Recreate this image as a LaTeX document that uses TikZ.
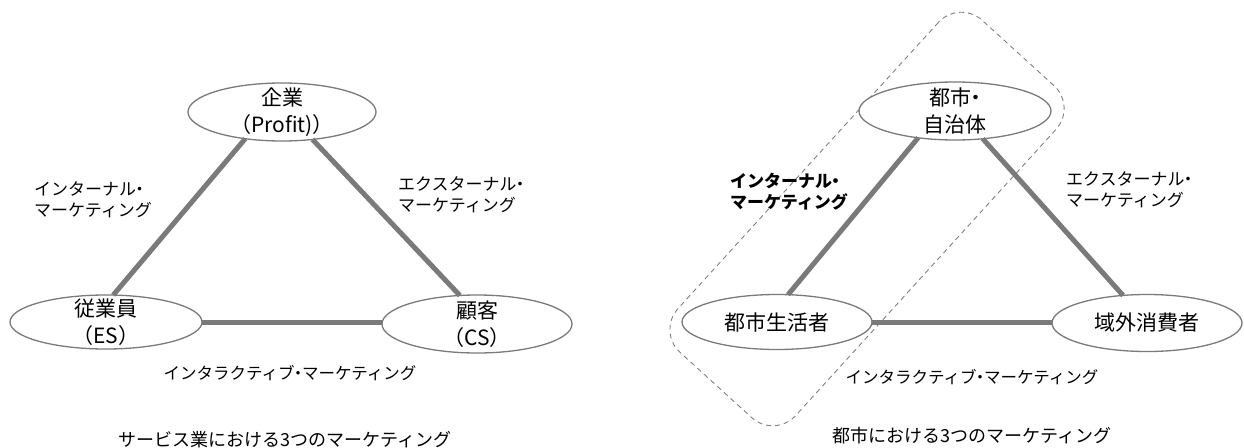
\documentclass[tikz,border=0pt]{standalone}
\usepackage{fontspec}
\setmainfont{Noto Sans CJK JP}
\usetikzlibrary{shapes.geometric}
\definecolor{lg}{HTML}{7A7A7A}
\definecolor{dg}{HTML}{808080}
\newcommand{\mdot}{\kern-0.3em・\kern-0.25em}
\begin{document}
\begin{tikzpicture}[x=1pt,y=-1pt,
  ell/.style={ellipse, draw=lg, line width=1.3pt, fill=white, inner sep=0pt, outer sep=0pt},
  ntext/.style={font=\fontsize{21}{27}\selectfont, align=center, inner sep=0pt},
  conn/.style={draw=lg, line width=5pt},
  lab/.style={font=\fontsize{17}{21}\selectfont, align=left, anchor=west, inner sep=0pt},
  ilab/.style={font=\fontsize{16.5}{20}\selectfont, inner sep=0pt},
  captxt/.style={font=\fontsize{18}{22}\selectfont, inner sep=0pt},
  grpbox/.style={draw=dg, line width=0.9pt, dash pattern=on 5pt off 4pt, rounded corners=31pt, inner sep=0pt}
]
\useasboundingbox (0,0) rectangle (1244,447);

% ---------- left figure ----------
\node[ell, minimum width=188pt, minimum height=58pt,
      label={[ntext]center:企業\\（Profit)）}] (qiye) at (282,112) {};
\node[ell, minimum width=192pt, minimum height=54pt,
      label={[ntext]center:従業員\\（ES）}] (jugyo) at (106,322) {};
\node[ell, minimum width=190pt, minimum height=58pt,
      label={[ntext]center:顧客\\（CS）}] (kokyaku) at (477,324) {};

\draw[conn] (qiye.216) -- (jugyo.75);
\draw[conn] (qiye.318) -- (kokyaku.121);
\draw[conn] (jugyo.0) -- (jugyo.0 -| kokyaku.180);

\node[lab] (lint) at (34,200) {インターナル\mdot\\マーケティング};
\node[lab] (lext) at (398,195) {エクスターナル\mdot\\マーケティング};
\node[ilab] (linter) at (290,373) {インタラクティブ\mdot マーケティング};
\node[captxt] (lcap) at (285,440) {サービス業における3つのマーケティング};

% ---------- right figure ----------
\node[grpbox, minimum width=449pt, minimum height=159pt, rotate=47.7] (grp) at (867,219) {};

\node[ell, minimum width=192pt, minimum height=58pt,
      label={[ntext]center:都市\mdot\\自治体}] (toshi) at (955,111) {};
\node[ell, minimum width=190pt, minimum height=55pt,
      label={[ntext]center:都市生活者}] (seikatsu) at (777,322) {};
\node[ell, minimum width=190pt, minimum height=57pt,
      label={[ntext]center:域外消費者}] (gaibu) at (1147,323) {};

\draw[conn] (toshi.216) -- (seikatsu.68);
\draw[conn] (toshi.315) -- (gaibu.131);
\draw[conn] (seikatsu.0) -- (seikatsu.0 -| gaibu.180);

\node[lab, font=\fontsize{17}{21}\selectfont\bfseries] (rint) at (730,192) {インターナル\mdot\\マーケティング};
\node[lab] (rext) at (1066,190) {エクスターナル\mdot\\マーケティング};
\node[ilab] (rinter) at (972,377) {インタラクティブ\mdot マーケティング};
\node[captxt] (rcap) at (972,436) {都市における3つのマーケティング};
\end{tikzpicture}
\end{document}
